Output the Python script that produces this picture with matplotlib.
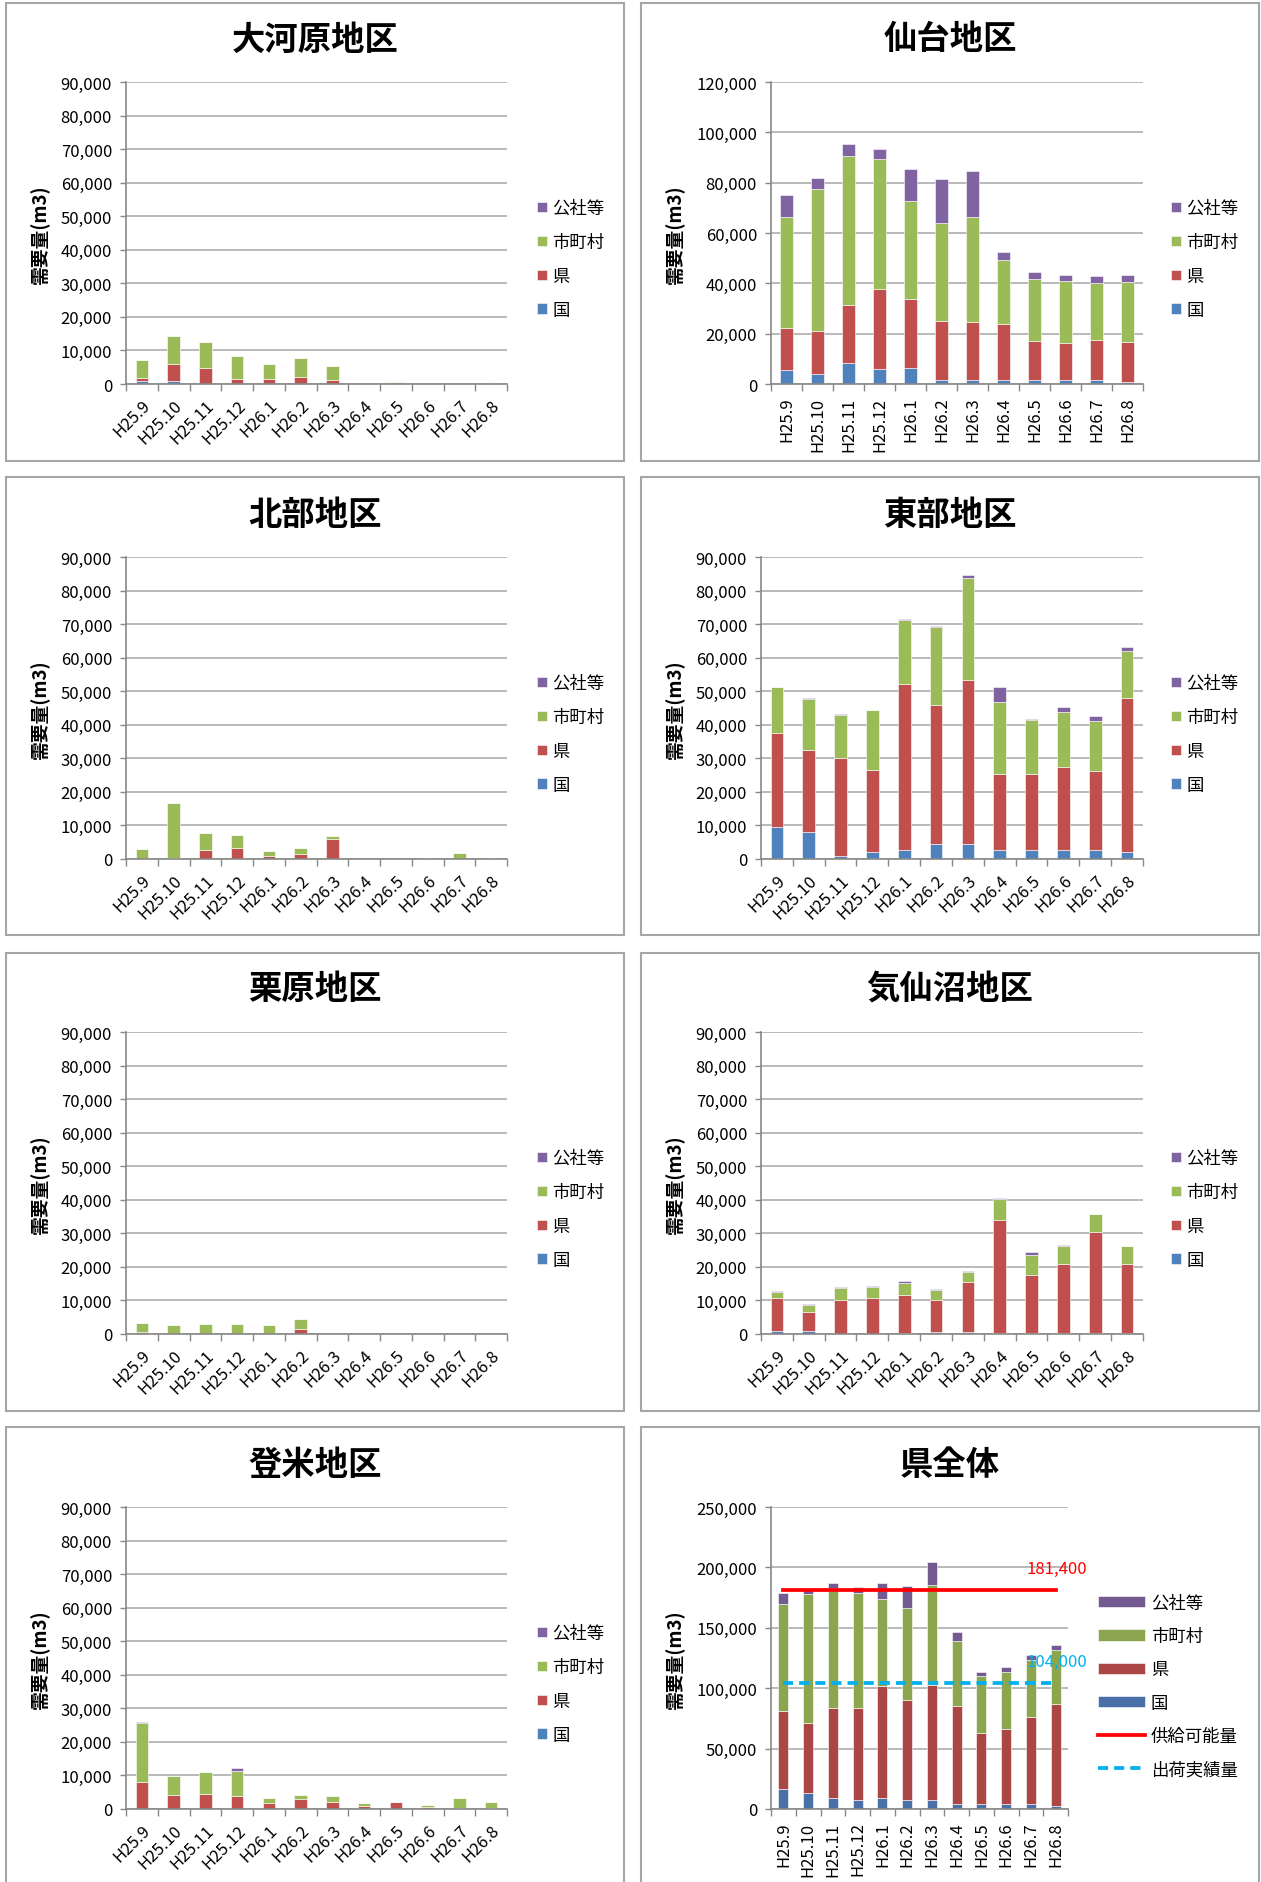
import numpy as np
import matplotlib.pyplot as plt
from matplotlib.patches import Rectangle, Patch
from matplotlib.lines import Line2D
from matplotlib.ticker import FuncFormatter, MultipleLocator, FixedLocator

plt.rcParams['font.family'] = ['Noto Sans CJK JP', 'DejaVu Sans']

months = ['H25.9', 'H25.10', 'H25.11', 'H25.12', 'H26.1', 'H26.2',
          'H26.3', 'H26.4', 'H26.5', 'H26.6', 'H26.7', 'H26.8']
series_names = ['国', '県', '市町村', '公社等']

# 大河原地区
okawara_kuni = [900, 900, 0, 0, 0, 0, 0, 0, 0, 0, 0, 0]
okawara_ken = [800, 5100, 4700, 1400, 1400, 2000, 1100, 0, 0, 0, 0, 0]
okawara_shi = [5600, 8300, 7900, 7000, 4700, 5800, 4400, 0, 700, 0, 0, 0]
okawara_kosha = [0, 0, 0, 0, 0, 0, 0, 0, 0, 0, 0, 300]

# 仙台地区
sendai_kuni = [5700, 4100, 8300, 6000, 6500, 1700, 1700, 1500, 1500, 1500, 1500, 700]
sendai_ken = [16700, 17100, 23100, 31600, 27100, 23500, 22800, 22300, 15600, 14800, 15900, 16000]
sendai_shi = [44100, 56400, 59300, 51900, 39100, 38900, 42000, 25600, 24500, 24800, 22900, 24000]
sendai_kosha = [8700, 4400, 4800, 4000, 12600, 17200, 18000, 3200, 3000, 2300, 2500, 2700]

# 北部地区
hokubu_kuni = [0, 0, 0, 0, 0, 0, 0, 0, 0, 0, 0, 0]
hokubu_ken = [0, 300, 2800, 3200, 900, 1500, 6100, 0, 0, 0, 0, 0]
hokubu_shi = [3000, 16500, 4900, 4100, 1400, 1700, 700, 0, 0, 200, 1800, 200]
hokubu_kosha = [0, 0, 0, 0, 0, 0, 0, 0, 0, 0, 0, 0]

# 東部地区
tobu_kuni = [9400, 8000, 1000, 2200, 2600, 4400, 4400, 2600, 2600, 2600, 2600, 2200]
tobu_ken = [28100, 24400, 29000, 24200, 49600, 41400, 48800, 22700, 22700, 24800, 23600, 45900]
tobu_shi = [13700, 15400, 12900, 18000, 19000, 23300, 30500, 21600, 16200, 16500, 14800, 13800]
tobu_kosha = [200, 200, 200, 100, 400, 400, 900, 4400, 200, 1400, 1500, 1400]

# 栗原地区
kurihara_kuni = [0, 0, 0, 0, 0, 0, 0, 0, 0, 0, 0, 0]
kurihara_ken = [600, 0, 0, 0, 0, 1400, 0, 0, 0, 0, 0, 0]
kurihara_shi = [2600, 2800, 3000, 3000, 2700, 3100, 0, 0, 0, 0, 0, 0]
kurihara_kosha = [0, 0, 0, 0, 0, 0, 0, 0, 0, 0, 0, 0]

# 気仙沼地区
kesennuma_kuni = [800, 800, 100, 100, 300, 600, 600, 300, 300, 300, 300, 300]
kesennuma_ken = [9800, 5700, 10000, 10500, 11200, 9500, 14900, 33700, 17200, 20500, 30000, 20500]
kesennuma_shi = [1900, 2100, 3700, 3400, 3600, 3100, 3100, 6100, 6100, 5500, 5400, 5300]
kesennuma_kosha = [200, 300, 200, 300, 700, 300, 200, 500, 700, 100, 0, 0]

# 登米地区
tome_kuni = [0, 0, 0, 0, 0, 0, 0, 0, 0, 0, 0, 0]
tome_ken = [7900, 4300, 4500, 4000, 1900, 3100, 2000, 1000, 2000, 700, 400, 400]
tome_shi = [17700, 5500, 6400, 7300, 1300, 1200, 1900, 700, 200, 500, 3000, 1800]
tome_kosha = [200, 0, 0, 900, 0, 0, 0, 0, 0, 0, 0, 0]

# 県全体
zentai_kuni = [16600, 13600, 8900, 7500, 9400, 7500, 7500, 4200, 4200, 4200, 4200, 2500]
zentai_ken = [64800, 57600, 74800, 76200, 92800, 82600, 95500, 81000, 58400, 62200, 71600, 84300]
zentai_shi = [88100, 106900, 99300, 95300, 71600, 76300, 82100, 53800, 47400, 46900, 47300, 45000]
zentai_kosha = [9200, 4400, 3900, 4900, 13200, 18200, 19300, 7700, 3600, 4100, 4000, 4300]
supply = [181400, 181400, 181400, 181400, 181400, 181400,
          181400, 181400, 181400, 181400, 181400, 181400]
shipped = [104000, 104000, 104000, 104000, 104000, 104000,
           104000, 104000, 104000, 104000, 104000, 104000]

region_colors = ['#4F81BD', '#C0504D', '#9BBB59', '#8064A2']
total_colors = ['#4A70A8', '#AA4745', '#8BA64F', '#735B92']

W, H = 1261, 1883
fig = plt.figure(figsize=(W / 100, H / 100), dpi=100)

row_top = [83, 558, 1033, 1508]
row_bot = [385, 860, 1335, 1810]
panel_rows = [(4, 462), (478, 936), (954, 1412), (1428, 1895)]
panel_cols = [(6, 624), (641, 1259)]

for (pt, pb) in panel_rows:
    for (pl, pr) in panel_cols:
        fig.add_artist(Rectangle((pl / W, 1 - pb / H), (pr - pl) / W, (pb - pt) / H,
                                 transform=fig.transFigure, fill=False,
                                 ec='#A6A6A6', lw=1.5))

comma = FuncFormatter(lambda v, p: f'{int(v):,}')


def draw(row, col, left, right, title, values, colors, ymax, step, rot,
         lines=None, leg_x=None, leg_y=None, big_handles=False):
    t, b = row_top[row], row_bot[row]
    ax = fig.add_axes([left / W, 1 - b / H, (right - left) / W, (b - t) / H])
    x = np.arange(len(months))
    bottom = np.zeros(len(months))
    for name, vals, c in zip(series_names, values, colors):
        ax.bar(x, vals, 0.4, bottom=bottom, color=c, edgecolor='white',
               linewidth=0.4, label=name, zorder=3)
        bottom += np.array(vals)
    handles, labels = ax.get_legend_handles_labels()
    handles, labels = handles[::-1], labels[::-1]
    if lines:
        for vals, c, ls, txt, ty in lines:
            ln, = ax.plot(x[:len(vals)], vals, color=c, lw=2.7, ls=ls, zorder=4)
            if ls != '-':
                ln.set_dashes((2.7, 1.6))
            ax.text(12.27, ty, txt, color=c, ha='right', va='center',
                    fontsize=12, clip_on=False, zorder=5)
        h_sup = Line2D([], [], color=lines[0][1], lw=2.7)
        h_shp = Line2D([], [], color=lines[1][1], lw=2.7, dashes=(2.7, 1.6))
        handles += [h_sup, h_shp]
        labels += ['供給可能量', '出荷実績量']
    ax.set_xlim(-0.5, 11.5)
    ax.set_ylim(0, ymax)
    ax.yaxis.set_major_locator(MultipleLocator(step))
    ax.yaxis.set_major_formatter(comma)
    ax.grid(axis='y', color='#A6A6A6', lw=1.1, zorder=0)
    for s in ['top', 'right']:
        ax.spines[s].set_visible(False)
    for s in ['left', 'bottom']:
        ax.spines[s].set_color('#888888')
        ax.spines[s].set_linewidth(1.2)
        ax.spines[s].set_zorder(4)
    ax.tick_params(axis='y', length=4, width=1, color='#888888', pad=6, labelsize=12)
    if rot == 90:
        ax.set_xticks(x, months, rotation=90, ha='center', va='top')
    else:
        ax.set_xticks(x, months, rotation=45, ha='right', va='top',
                      rotation_mode='anchor')
    ax.tick_params(axis='x', which='major', length=0, pad=9, labelsize=12)
    ax.xaxis.set_minor_locator(FixedLocator(np.arange(-0.5, 12, 1)))
    ax.tick_params(axis='x', which='minor', length=5, width=1, color='#888888')
    pl, pr = panel_cols[col]
    cx = (pl + pr) / 2
    fig.text(cx / W, 1 - (t - 43) / H, title, ha='center', va='center',
             fontsize=24, fontweight='bold')
    lab_x = 40 if col == 0 else 675
    fig.text(lab_x / W, 1 - ((t + b) / 2) / H, '需要量(m3)', rotation=90,
             ha='center', va='center', fontsize=13.5, fontweight='bold')
    if big_handles:
        ax.legend(handles, labels, loc='center left',
                  bbox_to_anchor=(leg_x / W, 1 - leg_y / H),
                  bbox_transform=fig.transFigure, frameon=False, fontsize=12.5,
                  borderpad=0, borderaxespad=0, handlelength=2.7,
                  handleheight=0.63, handletextpad=0.35, labelspacing=0.88)
    else:
        ax.legend(handles, labels, loc='center left',
                  bbox_to_anchor=(leg_x / W, 1 - leg_y / H),
                  bbox_transform=fig.transFigure, frameon=False, fontsize=12.5,
                  borderpad=0, borderaxespad=0, handlelength=0.57,
                  handleheight=0.57, handletextpad=0.3, labelspacing=0.92)
    return ax


draw(0, 0, 126, 507, '大河原地区',
     [okawara_kuni, okawara_ken, okawara_shi, okawara_kosha],
     region_colors, 90000, 10000, 45, leg_x=537, leg_y=260)
draw(0, 1, 771, 1143, '仙台地区',
     [sendai_kuni, sendai_ken, sendai_shi, sendai_kosha],
     region_colors, 120000, 20000, 90, leg_x=1171, leg_y=260)
draw(1, 0, 126, 507, '北部地区',
     [hokubu_kuni, hokubu_ken, hokubu_shi, hokubu_kosha],
     region_colors, 90000, 10000, 45, leg_x=537, leg_y=735)
draw(1, 1, 761, 1143, '東部地区',
     [tobu_kuni, tobu_ken, tobu_shi, tobu_kosha],
     region_colors, 90000, 10000, 45, leg_x=1171, leg_y=735)
draw(2, 0, 126, 507, '栗原地区',
     [kurihara_kuni, kurihara_ken, kurihara_shi, kurihara_kosha],
     region_colors, 90000, 10000, 45, leg_x=537, leg_y=1210)
draw(2, 1, 761, 1143, '気仙沼地区',
     [kesennuma_kuni, kesennuma_ken, kesennuma_shi, kesennuma_kosha],
     region_colors, 90000, 10000, 45, leg_x=1171, leg_y=1210)
draw(3, 0, 126, 507, '登米地区',
     [tome_kuni, tome_ken, tome_shi, tome_kosha],
     region_colors, 90000, 10000, 45, leg_x=537, leg_y=1685)
draw(3, 1, 771, 1068, '県全体',
     [zentai_kuni, zentai_ken, zentai_shi, zentai_kosha],
     total_colors, 250000, 50000, 90,
     lines=[(supply, '#FF0000', '-', '181,400', 199500),
            (shipped, '#00B0F0', '--', '104,000', 122500)],
     leg_x=1098, leg_y=1687, big_handles=True)

fig.savefig('out.png', dpi=100)
